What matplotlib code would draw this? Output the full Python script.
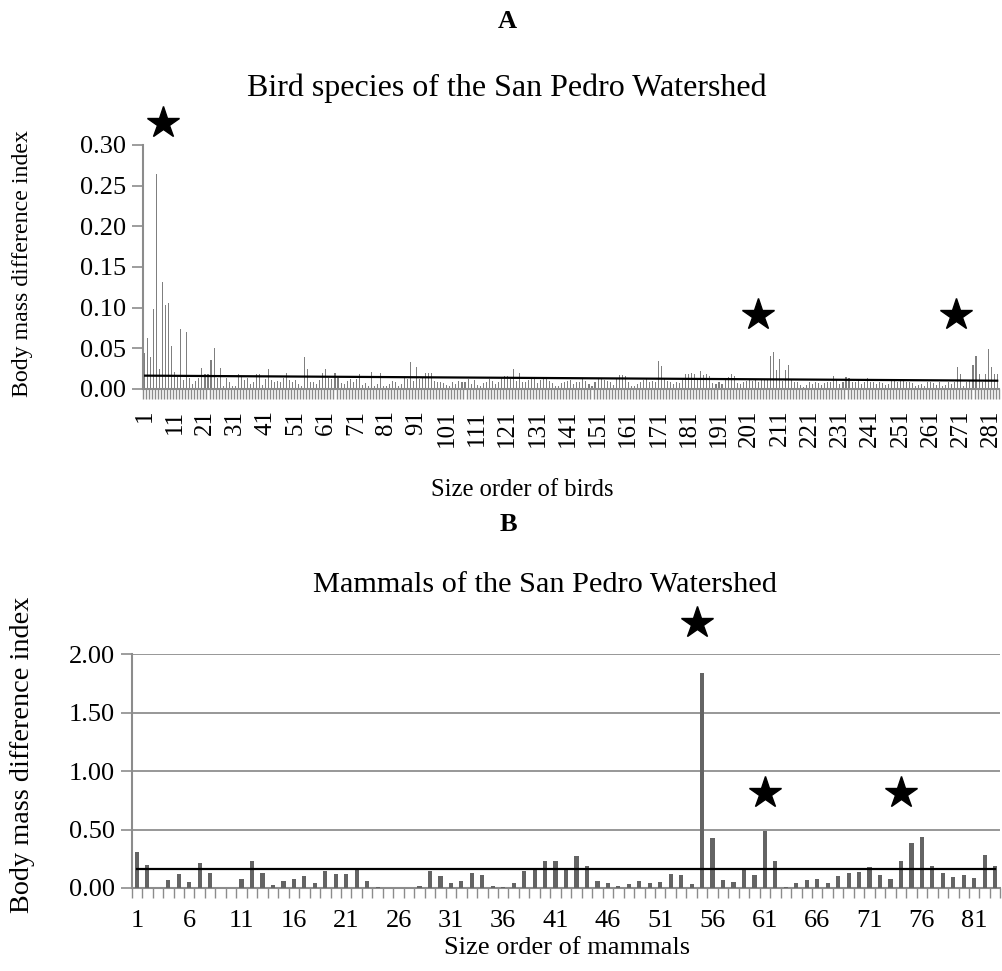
import matplotlib.pyplot as plt
import numpy as np

plt.rcParams['font.family'] = 'Liberation Serif'
plt.rcParams['font.size'] = 19

# body mass difference index, birds in size order
bird_values = [
    .044, .063, .039, .098, .264, .024, .131, .103, .106, .053,
    .021, .015, .074, .011, .070, .013, .006, .010, .013, .026,
    .018, .018, .036, .051, .014, .026, .004, .014, .009, .004,
    .004, .019, .016, .011, .014, .006, .009, .019, .019, .005,
    .012, .025, .011, .009, .010, .009, .014, .020, .011, .009,
    .011, .006, .004, .039, .025, .008, .009, .006, .011, .020,
    .025, .013, .012, .020, .013, .007, .006, .010, .012, .009,
    .012, .018, .005, .007, .004, .021, .004, .006, .020, .004,
    .004, .006, .010, .008, .004, .006, .014, .012, .033, .010,
    .027, .012, .015, .020, .020, .020, .010, .009, .008, .007,
    .005, .004, .008, .006, .010, .009, .008, .012, .006, .011,
    .005, .004, .007, .009, .012, .010, .006, .008, .013, .016,
    .016, .012, .025, .010, .020, .009, .008, .011, .013, .012,
    .007, .011, .013, .012, .010, .007, .004, .004, .007, .009,
    .010, .011, .006, .009, .008, .012, .010, .006, .004, .009,
    .013, .012, .011, .010, .009, .005, .012, .017, .017, .016,
    .009, .004, .004, .006, .008, .011, .012, .009, .010, .008,
    .034, .028, .012, .010, .008, .006, .009, .007, .011, .018,
    .018, .020, .018, .011, .022, .017, .019, .016, .007, .006,
    .008, .006, .011, .015, .019, .016, .007, .006, .009, .010,
    .011, .010, .012, .009, .011, .012, .012, .040, .045, .023,
    .037, .010, .023, .030, .012, .009, .008, .005, .003, .005,
    .008, .006, .009, .007, .005, .007, .009, .008, .016, .012,
    .006, .008, .015, .013, .009, .008, .011, .006, .009, .013,
    .009, .008, .006, .009, .007, .005, .006, .012, .012, .008,
    .010, .011, .008, .009, .007, .004, .005, .006, .004, .008,
    .009, .007, .005, .009, .004, .005, .008, .006, .008, .027,
    .018, .004, .008, .010, .030, .040, .018, .008, .018, .049,
    .027, .018, .018,
]

# body mass difference index, mammals in size order
mammal_values = [
    0.31, 0.20, 0.00, 0.065, 0.12, 0.05, 0.21, 0.13, 0.00, 0.00,
    0.075, 0.23, 0.13, 0.025, 0.06, 0.08, 0.10, 0.045, 0.145, 0.12,
    0.12, 0.16, 0.06, 0.01, 0.00, 0.00, 0.00, 0.02, 0.145, 0.105,
    0.045, 0.06, 0.13, 0.11, 0.015, 0.01, 0.045, 0.145, 0.155, 0.23,
    0.235, 0.155, 0.27, 0.19, 0.06, 0.045, 0.015, 0.03, 0.06, 0.045,
    0.055, 0.12, 0.115, 0.03, 1.84, 0.43, 0.065, 0.055, 0.157, 0.115,
    0.49, 0.23, 0.005, 0.043, 0.068, 0.074, 0.043, 0.10, 0.128, 0.137,
    0.18, 0.115, 0.074, 0.23, 0.385, 0.44, 0.19, 0.128, 0.09, 0.115,
    0.088, 0.28, 0.19,
]

# trend lines as drawn in the source (value at first and last species)
bird_trend = [0.0164, 0.0102]
mammal_trend = [0.165, 0.165]

# starred species: (position, height of star)
bird_stars = [(7, 0.327), (204, 0.091), (269.5, 0.091)]
mammal_stars = [(54.5, 2.27), (61, 0.81), (74, 0.81)]

axis_grey = '#8c8c8c'

fig = plt.figure(figsize=(10.02, 9.71), dpi=100)

# ---- panel A ----
ax1 = fig.add_axes([0.1427, 0.5994, 0.854, 0.2513])
x1 = np.arange(1, len(bird_values) + 1)
ax1.bar(x1, bird_values, width=0.35, color='#7f7f7f')
ax1.plot([x1[0], x1[-1]], bird_trend, color='black', lw=1.6)
ax1.set_xlim(0.5, len(bird_values) + 0.5)
ax1.set_ylim(0, 0.30)
ax1.set_yticks(np.arange(0, 0.31, 0.05))
ax1.set_yticklabels(['%.2f' % v for v in np.arange(0, 0.31, 0.05)])
ax1.set_xticks(x1[::10])
ax1.set_xticklabels([str(v) for v in x1[::10]], rotation=90, fontsize=18)
ax1.set_xticks(np.arange(0.5, len(bird_values) + 1), minor=True)
ax1.tick_params(axis='x', which='major', length=0, pad=15)
ax1.tick_params(axis='x', which='minor', length=7, width=1, color=axis_grey)
ax1.tick_params(axis='y', length=8, width=1.2, color=axis_grey, pad=4)
for s in ['top', 'right']:
    ax1.spines[s].set_visible(False)
for s in ['left', 'bottom']:
    ax1.spines[s].set_color(axis_grey)
    ax1.spines[s].set_linewidth(1.5)
for sx, sy in bird_stars:
    ax1.plot(sx, sy, marker='*', color='black', markersize=24, clip_on=False)

# ---- panel B ----
ax2 = fig.add_axes([0.1314, 0.0855, 0.867, 0.2407])
x2 = np.arange(1, len(mammal_values) + 1)
ax2.bar(x2, mammal_values, width=0.4, color='#646464', zorder=3)
ax2.plot([x2[0], x2[-1]], mammal_trend, color='black', lw=1.6, zorder=4)
ax2.set_xlim(0.5, len(mammal_values) + 0.5)
ax2.set_ylim(0, 2.0)
ax2.set_yticks(np.arange(0, 2.01, 0.5))
ax2.set_yticklabels(['%.2f' % v for v in np.arange(0, 2.01, 0.5)])
ax2.grid(axis='y', color='#979797', lw=1.4, zorder=0)
ax2.set_xticks(x2[::5])
ax2.set_xticklabels([str(v) for v in x2[::5]])
ax2.set_xticks(np.arange(0.5, len(mammal_values) + 1), minor=True)
ax2.tick_params(axis='x', which='major', length=0, pad=16)
ax2.tick_params(axis='x', which='minor', length=7, width=1, color=axis_grey)
ax2.tick_params(axis='y', length=8, width=1.2, color=axis_grey, pad=4)
for s in ['top', 'right']:
    ax2.spines[s].set_visible(False)
for s in ['left', 'bottom']:
    ax2.spines[s].set_color(axis_grey)
    ax2.spines[s].set_linewidth(1.5)
for sx, sy in mammal_stars:
    ax2.plot(sx, sy, marker='*', color='black', markersize=24, clip_on=False)

# titles and labels
fig.text(0.506, 1 - 22 / 971, 'A', ha='center', va='center', weight='bold', fontsize=19)
fig.text(0.506, 1 - 88 / 971, 'Bird species of the San Pedro Watershed',
         ha='center', va='center', fontsize=23)
fig.text(0.521, 1 - 490 / 971, 'Size order of birds', ha='center', va='center', fontsize=17.7)
fig.text(0.022, 1 - 263 / 971, 'Body mass difference index', rotation=90,
         ha='center', va='center', fontsize=17.2)

fig.text(0.507, 1 - 524 / 971, 'B', ha='center', va='center', weight='bold', fontsize=19)
fig.text(0.544, 1 - 585 / 971, 'Mammals of the San Pedro Watershed',
         ha='center', va='center', fontsize=21.8)
fig.text(0.566, 1 - 948 / 971, 'Size order of mammals', ha='center', va='center', fontsize=19)
fig.text(0.022, 1 - 755 / 971, 'Body mass difference index', rotation=90,
         ha='center', va='center', fontsize=20.3)

fig.savefig('out.png', dpi=100)
